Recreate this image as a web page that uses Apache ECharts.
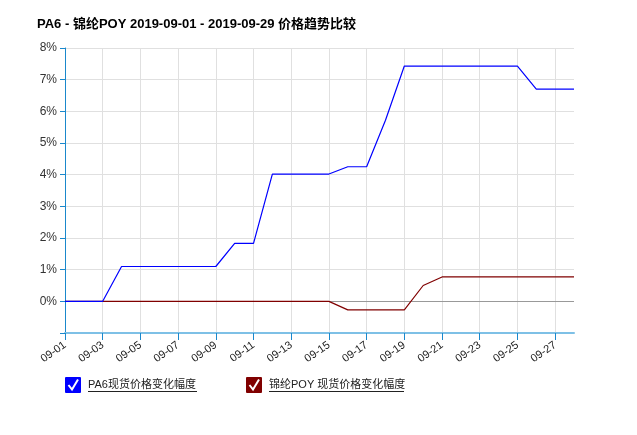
<!DOCTYPE html>
<html><head><meta charset="utf-8">
<script src="https://cdn.jsdelivr.net/npm/echarts@6/dist/echarts.min.js"></script>
<style>html,body{margin:0;padding:0;background:#fff}#c{width:637px;height:435px}</style>
</head><body><div id="c"></div>
<script>
var titleText = 'PA6 - 锦纶POY 2019-09-01 - 2019-09-29 价格趋势比较';
var categories = ['09-01','09-02','09-03','09-04','09-05','09-06','09-07','09-08','09-09','09-10','09-11','09-12','09-13','09-14','09-15','09-16','09-17','09-18','09-19','09-20','09-21','09-22','09-23','09-24','09-25','09-26','09-27','09-28'];
var seriesNames = ['PA6现货价格变化幅度', '锦纶POY 现货价格变化幅度'];
var pa6Values = [0,0,0,1.1,1.1,1.1,1.1,1.1,1.1,1.83,1.83,4.02,4.02,4.02,4.02,4.25,4.25,5.72,7.43,7.43,7.43,7.43,7.43,7.43,7.43,6.7,6.7,6.7];
var poyValues = [0,0,0,0,0,0,0,0,0,0,0,0,0,0,0,-0.27,-0.27,-0.27,-0.27,0.5,0.77,0.77,0.77,0.77,0.77,0.77,0.77,0.77];
var colors = ['#0000ff', '#800000'];
var font = 'Arial, "Liberation Sans", "Noto Sans CJK SC", sans-serif';

var chart = echarts.init(document.getElementById('c'), null, {renderer:'canvas'});

function legendItem(x, color, name, textW) {
  return [
    {type:'rect', shape:{x:x, y:377, width:16, height:16, r:1}, style:{fill:color}, silent:true},
    {type:'polyline', shape:{points:[[x+3.5,385],[x+7,389.5],[x+13,379.5]]}, style:{stroke:'#fff', lineWidth:2, fill:null}, silent:true},
    {type:'text', x:x+23, y:385, style:{text:name, font:'11px ' + font, fill:'#222', verticalAlign:'middle'}, silent:true},
    {type:'line', shape:{x1:x+23, y1:391.5, x2:x+23+textW, y2:391.5}, style:{stroke:'#222', lineWidth:1}, silent:true}
  ];
}

chart.setOption({
  animation:false,
  backgroundColor:'#fff',
  title:{text:titleText, left:32, top:13, textStyle:{fontSize:13, fontWeight:'bold', color:'#000', fontFamily:font}},
  grid:{left:65, right:63, top:48, bottom:102, containLabel:false},
  xAxis:{
    type:'category', data:categories, boundaryGap:false,
    axisLine:{show:true, onZero:false, lineStyle:{color:'#7ec0e6', width:2}},
    axisTick:{show:true, interval:1, length:7, lineStyle:{color:'#1a88cc', width:1}},
    axisLabel:{interval:1, rotate:35, fontSize:11, color:'#222', fontFamily:font, margin:11},
    splitLine:{show:true, interval:1, lineStyle:{color:'#e0e0e0'}}
  },
  yAxis:{
    type:'value', min:-1, max:8, interval:1,
    axisLine:{show:true, lineStyle:{color:'#1a88cc'}},
    axisTick:{show:true, length:5, lineStyle:{color:'#1a88cc'}},
    axisLabel:{fontSize:12, color:'#333', fontFamily:font, margin:8,
      formatter:function(v){return v < 0 ? '' : v + '%';}},
    splitLine:{show:true, lineStyle:{color:'#e0e0e0'}}
  },
  series:[
    {name:seriesNames[1], type:'line', data:poyValues, symbol:'none', lineStyle:{color:colors[1], width:1.2}, z:3,
     markLine:{silent:true, symbol:'none', label:{show:false}, lineStyle:{color:'#999', type:'solid', width:1}, data:[{yAxis:0}], z:1}},
    {name:seriesNames[0], type:'line', data:pa6Values, symbol:'none', lineStyle:{color:colors[0], width:1.2}, z:4}
  ],
  graphic:[].concat(legendItem(65, colors[0], seriesNames[0], 109), legendItem(246, colors[1], seriesNames[1], 135))
});
</script></body></html>
